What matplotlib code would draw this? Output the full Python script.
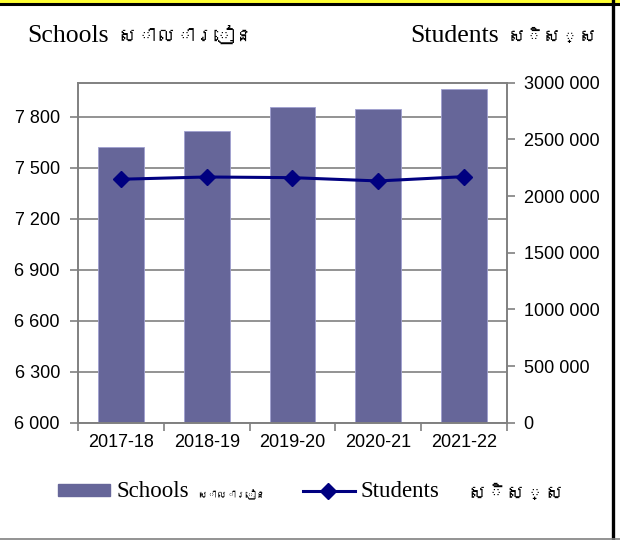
import matplotlib
matplotlib.use("Agg")
import matplotlib.pyplot as plt
from matplotlib import font_manager
from matplotlib.ft2font import FT2Font
from matplotlib.lines import Line2D
from matplotlib.patches import Rectangle
from matplotlib.ticker import FuncFormatter, MultipleLocator

# data
years = ["2017-18", "2018-19", "2019-20", "2020-21", "2021-22"]
schools = [7623, 7718, 7859, 7843, 7963]
students = [2148000, 2168000, 2162000, 2133000, 2171000]

bar_color = "#666699"
line_color = "#000080"
axis_gray = "#808080"

# look for any installed font that has Khmer glyphs
khmer_font = None
for path in font_manager.findSystemFonts():
    try:
        if 0x179F in FT2Font(path).get_charmap():
            khmer_font = font_manager.FontProperties(fname=path).get_name()
            break
    except Exception:
        pass

serif = ["Liberation Serif", "DejaVu Serif"]
if khmer_font:
    serif = ["Liberation Serif", khmer_font, "DejaVu Serif"]
plt.rcParams["font.family"] = ["Liberation Sans", "DejaVu Sans"]


def spaced(v, pos):
    return "{:,.0f}".format(v).replace(",", " ")


def spaced_right(v, pos):
    # Excel style: millions are not split off
    if v >= 1000000:
        return "{:.0f} {:03.0f}".format(v // 1000, v % 1000)
    return spaced(v, pos)


fig = plt.figure(figsize=(6.2, 5.4), dpi=100)
ax = fig.add_axes([0.1258, 0.2172, 0.6919, 0.6297])

x = range(len(years))
ax.bar(x, schools, width=0.535, color=bar_color, edgecolor="#a0a0d0",
       linewidth=0.6, zorder=2)
ax.set_ylim(6000, 8000)
ax.set_xlim(-0.5, len(years) - 0.5)
ax.yaxis.set_major_locator(MultipleLocator(300))
ax.yaxis.set_major_formatter(FuncFormatter(spaced))
ax.grid(axis="y", color=axis_gray, linewidth=1.2, zorder=1)

ax.set_xticks([i - 0.5 for i in range(len(years) + 1)])
ax.set_xticklabels([])
ax.set_xticks(list(x), minor=True)
ax.set_xticklabels(years, minor=True)
ax.tick_params(axis="x", which="major", length=6, width=1.2, color=axis_gray)
ax.tick_params(axis="x", which="minor", length=0, pad=8, labelsize=13)
ax.tick_params(axis="y", length=6, width=1.2, color=axis_gray, labelsize=13,
               pad=7)

for s in ax.spines.values():
    s.set_color(axis_gray)
    s.set_linewidth(1.2)

ax2 = ax.twinx()
ax2.plot(list(x), students, color=line_color, linewidth=2.2, marker="D",
         markersize=8, zorder=3)
ax2.set_ylim(0, 3000000)
ax2.yaxis.set_major_locator(MultipleLocator(500000))
ax2.yaxis.set_major_formatter(FuncFormatter(spaced_right))
ax2.tick_params(axis="y", length=6, width=1.2, color=axis_gray, labelsize=13,
                pad=6)
for s in ax2.spines.values():
    s.set_color(axis_gray)
    s.set_linewidth(1.2)

# axis titles (Khmer comes out unshaped, so it is set a bit smaller)
fig.text(0.044, 0.9222, "Schools", family=serif, fontsize=18.5,
         va="baseline")
fig.text(0.189, 0.9222, "សាលារៀន", family=serif, fontsize=14,
         va="baseline")
fig.text(0.661, 0.9222, "Students", family=serif, fontsize=18.5,
         va="baseline")
fig.text(0.819, 0.9222, "សិស្ស", family=serif, fontsize=13, va="baseline")

# legend drawn by hand
fig.patches.append(Rectangle((0.0935, 0.0815), 0.0839, 0.0222,
                             color=bar_color, transform=fig.transFigure))
fig.text(0.188, 0.0796, "Schools", family=serif, fontsize=16.5,
         va="baseline")
fig.text(0.318, 0.0796, "សាលារៀន", family=serif, fontsize=7, va="baseline")
fig.lines.append(Line2D([0.489, 0.573], [0.0907, 0.0907], color=line_color,
                        linewidth=2.2, transform=fig.transFigure))
fig.lines.append(Line2D([0.529], [0.0907], color=line_color, marker="D",
                        markersize=8, transform=fig.transFigure))
fig.text(0.582, 0.0796, "Students", family=serif, fontsize=16.5,
         va="baseline")
fig.text(0.753, 0.0760, "សិស្ស", family=serif, fontsize=14, va="baseline")

# outer frame of the screenshot
fig.patches.append(Rectangle((0, 0.9945), 1, 0.0055, color="#ffff33",
                             transform=fig.transFigure))
fig.lines.append(Line2D([0, 1], [0.9917, 0.9917], color="black",
                        linewidth=2.2, transform=fig.transFigure))
fig.lines.append(Line2D([0.9895, 0.9895], [0, 1], color="black",
                        linewidth=2.4, transform=fig.transFigure))
fig.lines.append(Line2D([0, 1], [0.002, 0.002], color=axis_gray,
                        linewidth=1.2, transform=fig.transFigure))

fig.savefig("out.png", dpi=100)
